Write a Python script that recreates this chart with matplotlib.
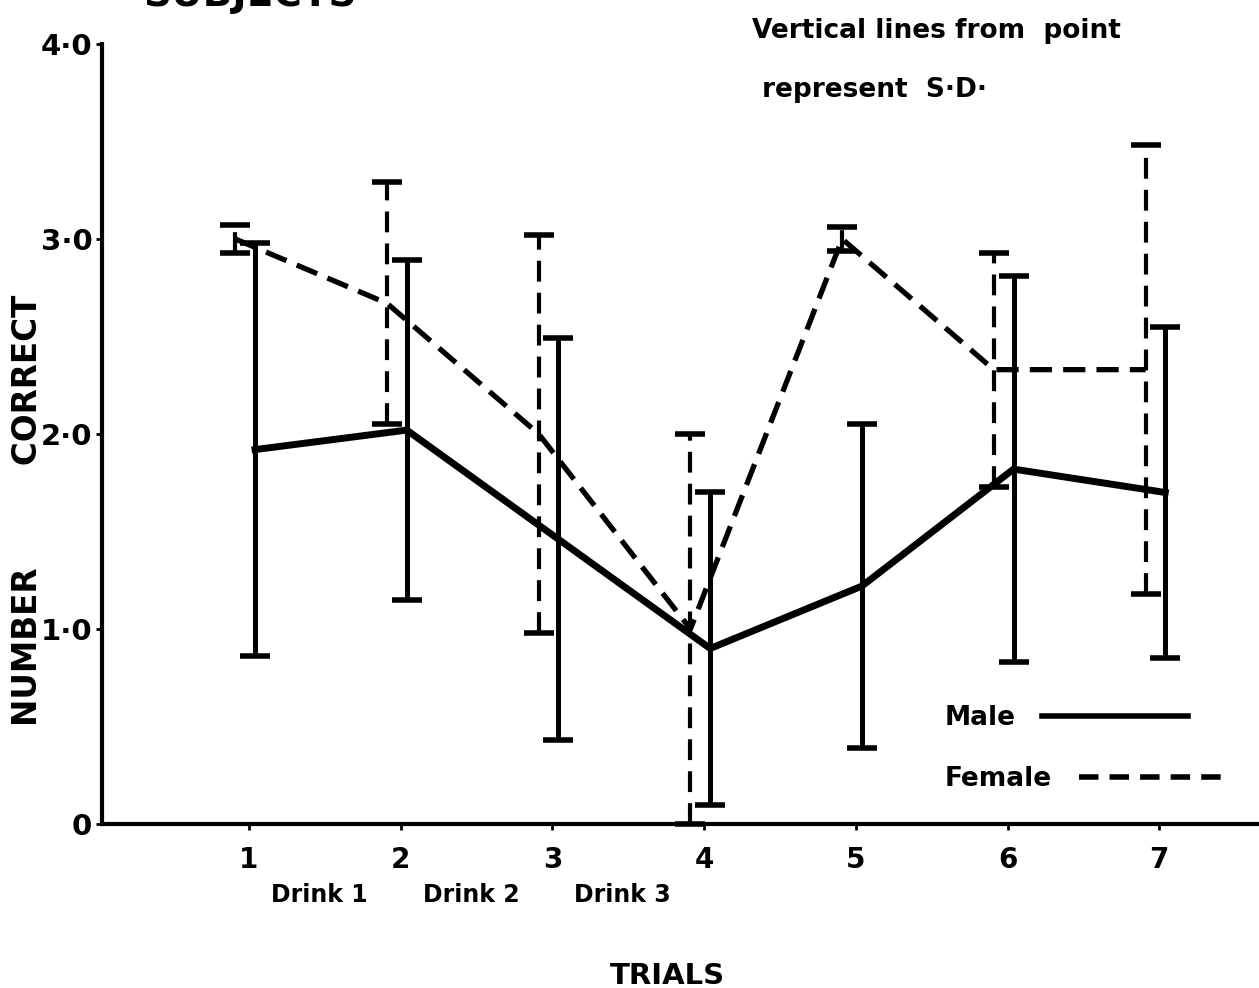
import matplotlib
matplotlib.use('Agg')
import matplotlib.pyplot as plt
from matplotlib.lines import Line2D

# ---------------- data ----------------
trials = [1, 2, 3, 4, 5, 6, 7]
trial_labels = ['1', '2', '3', '4', '5', '6', '7']
drink_trials = [1.5, 2.5, 3.5]
drink_labels = ['Drink 1', 'Drink 2', 'Drink 3']

male_mean = [1.92, 2.02, 1.46, 0.90, 1.22, 1.82, 1.70]
male_sd = [1.06, 0.87, 1.03, 0.80, 0.83, 0.99, 0.85]

female_mean = [3.00, 2.67, 2.00, 1.00, 3.00, 2.33, 2.33]
female_sd = [0.07, 0.62, 1.02, 1.00, 0.06, 0.60, 1.15]

yticks = [0, 1, 2, 3, 4]
ytick_labels = ['0', '1·0', '2·0', '3·0', '4·0']

# ---------------- style ----------------
plt.rcParams['font.family'] = ['DejaVu Sans']
plt.rcParams['font.weight'] = 'bold'
plt.rcParams['lines.scale_dashes'] = False

W, H = 1259, 988
fig = plt.figure(figsize=(W / 100, H / 100), dpi=100)

def fx(px):
    return px / W

def fy(py):
    return 1 - py / H

ax_left, ax_right = 102, 1259
ax_top, ax_bot = 44, 824
ax = fig.add_axes([fx(ax_left), fy(ax_bot), fx(ax_right) - fx(ax_left), fy(ax_top) - fy(ax_bot)])

# x scale: trial 1 -> px 249, step 151.7 px
x0_px, step_px = 249, 151.7
ax.set_xlim(1 + (ax_left - x0_px) / step_px, 1 + (ax_right - x0_px) / step_px)
ax.set_ylim(0, 4)

male_off = 0.04
female_off = -0.09
xm = [t + male_off for t in trials]
xf = [t + female_off for t in trials]

# Male: solid
ax.plot(xm, male_mean, color='black', lw=5, solid_joinstyle='miter', zorder=3)
em = ax.errorbar(xm, male_mean, yerr=male_sd, fmt='none', ecolor='black',
                 elinewidth=3.6, capsize=11, capthick=4.0, zorder=3)
for c in em[1]:
    c.set_clip_on(False)

# Female: dashed
ax.plot(xf, female_mean, color='black', lw=3.8, dashes=(16, 8), zorder=4)
ef = ax.errorbar(xf, female_mean, yerr=female_sd, fmt='none', ecolor='black',
                 elinewidth=3.0, capsize=10.5, capthick=4.0, zorder=4)
for lc in ef[2]:
    lc.set_linestyle((0, (15, 8)))
for c in ef[1]:
    c.set_clip_on(False)

# axes styling
for s in ['top', 'right']:
    ax.spines[s].set_visible(False)
for s in ['left', 'bottom']:
    ax.spines[s].set_linewidth(3.0)

ax.set_xticks(trials)
ax.set_xticklabels(trial_labels, fontsize=20, fontweight='bold')
ax.set_yticks(yticks)
ax.set_yticklabels(ytick_labels, fontsize=21, fontweight='bold')
ax.tick_params(axis='x', direction='out', length=4, width=2, pad=12)
ax.tick_params(axis='y', direction='out', length=4, width=2, pad=3)

# Drink labels beneath the trial numbers
for t, lab in zip(drink_trials, drink_labels):
    ax.annotate(lab, xy=(t, 0), xycoords=('data', 'axes fraction'),
                xytext=(-4, -56), textcoords='offset points',
                ha='center', va='baseline', fontsize=17, fontweight='bold')

# axis titles
fig.text(fx(667), fy(984), 'TRIALS', ha='center', va='baseline',
         fontsize=21, fontweight='bold')
fig.text(fx(28), fy(510), 'NUMBER         CORRECT', rotation=90, ha='center',
         va='center', fontsize=23.5, fontweight='bold')

# partially cut-off title at the very top (as in the reference)
fig.text(fx(250), fy(6), 'SUBJECTS', ha='center', va='baseline',
         fontsize=28, fontweight='bold')

# note
fig.text(fx(752), fy(38), 'Vertical lines from  point', ha='left', va='baseline',
         fontsize=19, fontweight='bold')
fig.text(fx(762), fy(97), 'represent  S·D·', ha='left', va='baseline',
         fontsize=19, fontweight='bold')

# legend (labels first, left aligned, handle right after each label)
handles = [Line2D([], [], color='black', lw=4),
           Line2D([], [], color='black', lw=4, dashes=(14, 8))]
leg = ax.legend(handles, ['Male', 'Female'], loc='lower right',
                bbox_to_anchor=(0.99, 0.01), markerfirst=False, frameon=False,
                prop={'size': 19, 'weight': 'bold'}, handlelength=5.5,
                handletextpad=1.0, labelspacing=1.35)
try:
    for col in leg._legend_handle_box.get_children():
        col.align = 'left'
except Exception:
    pass

fig.savefig('out.png', dpi=100)
